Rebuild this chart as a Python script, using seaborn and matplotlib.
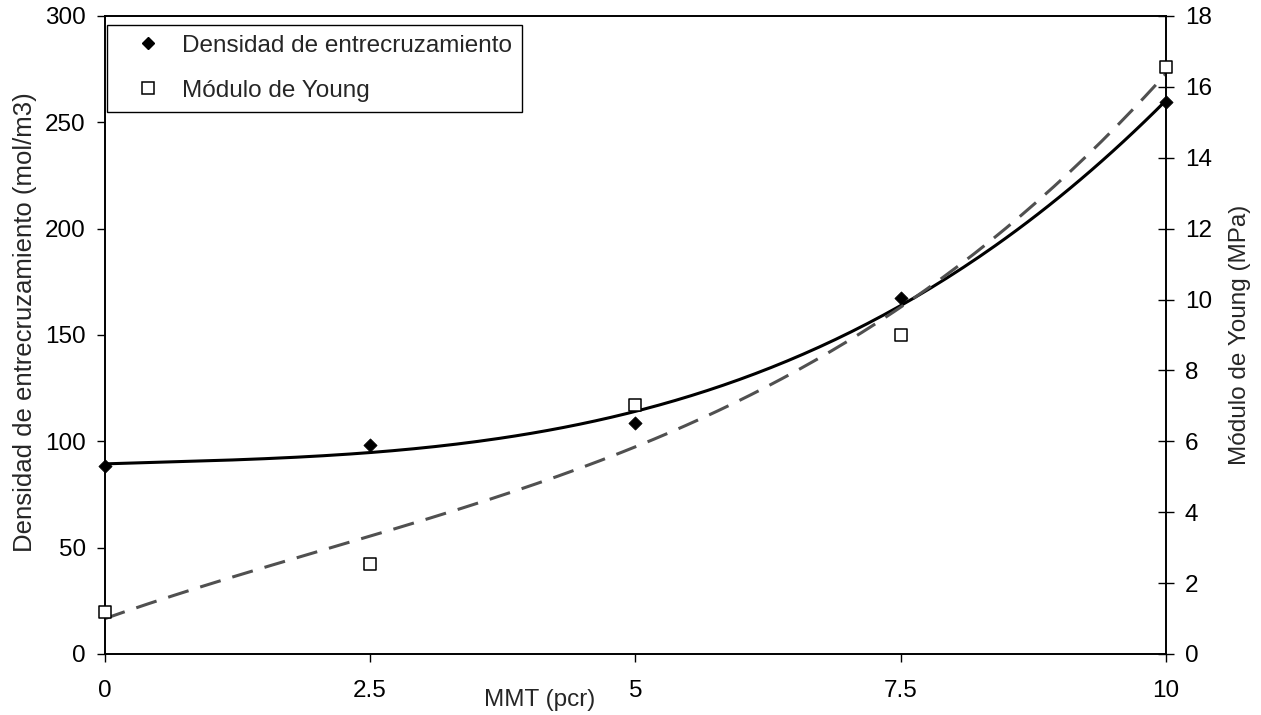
import numpy as np
import pandas as pd
import matplotlib
matplotlib.use("Agg")
import matplotlib.pyplot as plt
import seaborn as sns
from matplotlib.lines import Line2D

# values
mmt = [0, 2.5, 5, 7.5, 10]
densidad = [88.5, 98.3, 108.7, 167.4, 259.4]
young = [1.19, 2.54, 7.02, 9.0, 16.57]

sns.set_style("white")
plt.rcParams['font.family'] = ['Liberation Sans', 'DejaVu Sans']
FS = 17.5

df = pd.DataFrame({"MMT": mmt, "Densidad": densidad, "Young": young})

# polynomial trendlines (Excel-style, order 3)
xf = np.linspace(0, 10, 200)
fit_d = np.polyval(np.polyfit(mmt, densidad, 3), xf)
fit_y = np.polyval(np.polyfit(mmt, young, 3), xf)
df_fit = pd.DataFrame({"MMT": xf, "Densidad": fit_d, "Young": fit_y})

fig = plt.figure(figsize=(12.61, 7.15), dpi=100)
ax = fig.add_axes([104.5/1261, 61/715, 1061.5/1261, 638/715])
ax2 = ax.twinx()

sns.lineplot(data=df_fit, x="MMT", y="Densidad", ax=ax, color="black", lw=2.2, zorder=2)
sns.lineplot(data=df_fit, x="MMT", y="Young", ax=ax2, color="#505050", lw=2.2,
             zorder=2).lines[0].set_dashes([7, 4])
sns.scatterplot(data=df, x="MMT", y="Densidad", ax=ax, marker="D", s=45,
                color="black", edgecolor="black", zorder=4, clip_on=False)
sns.scatterplot(data=df, x="MMT", y="Young", ax=ax2, marker="s", s=75,
                facecolor="white", edgecolor="black", linewidth=1.1, zorder=4, clip_on=False)

ax.set_xlim(0, 10)
ax.set_ylim(0, 300)
ax2.set_ylim(0, 18)
ax.set_xticks(mmt)
ax.set_xticklabels(["0", "2.5", "5", "7.5", "10"])
ax.set_yticks(range(0, 301, 50))
ax2.set_yticks(range(0, 19, 2))

for a in (ax, ax2):
    for s in a.spines.values():
        s.set_color("black")
        s.set_linewidth(1.2)

ax.tick_params(axis="x", direction="out", length=6, width=1, bottom=True, labelsize=FS, pad=13, colors="black")
ax.tick_params(axis="y", direction="out", length=5.5, width=1, left=True, labelsize=FS, pad=8, colors="black")
ax2.tick_params(axis="y", direction="inout", length=11, width=1, right=True, labelsize=FS, pad=8, colors="black")

ax.set_xlabel("MMT (pcr)", fontsize=FS)
ax.xaxis.set_label_coords(0.41, -0.055)
ax.set_ylabel("Densidad de entrecruzamiento (mol/m3)", fontsize=18.5)
ax.yaxis.set_label_coords(-0.064, 0.52)
ax2.set_ylabel("Módulo de Young (MPa)", fontsize=FS, labelpad=12)

handles = [
    Line2D([], [], marker="D", ls="none", color="black", markersize=6.5),
    Line2D([], [], marker="s", ls="none", markerfacecolor="white",
           markeredgecolor="black", markersize=8.5, markeredgewidth=1.1),
]
leg = ax.legend(handles, ["Densidad de entrecruzamiento", "Módulo de Young"],
                loc="upper left", bbox_to_anchor=(2.5/1061.5, 1 - 9/638), borderaxespad=0,
                fontsize=FS, frameon=True, fancybox=False, framealpha=1,
                labelspacing=0.95, handlelength=2.6, handletextpad=0.1, borderpad=0.4)
leg.get_frame().set_edgecolor("black")
leg.get_frame().set_linewidth(1)
leg.set_zorder(10)

fig.savefig("out.png", dpi=100)
